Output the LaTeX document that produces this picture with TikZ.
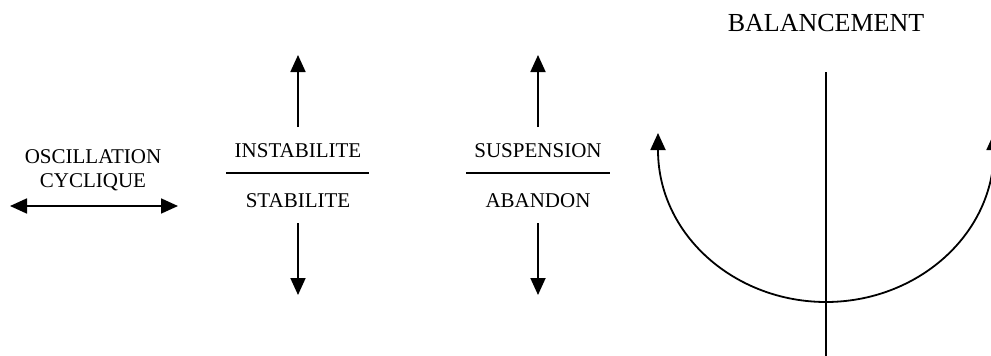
\documentclass[tikz,border=0pt]{standalone}
\usepackage{fontspec}
\setmainfont{Liberation Serif}
\usetikzlibrary{arrows.meta}
\begin{document}
\begin{tikzpicture}[x=1pt,y=-1pt,
  lbl/.style={font=\fontsize{21}{25}\selectfont, inner sep=0pt, anchor=base},
  big/.style={font=\fontsize{26}{30}\selectfont, inner sep=0pt, anchor=base},
  ln/.style={line width=1.8pt},
  tip/.style={Triangle[length=17pt,width=15pt]},
  arr/.style={line width=1.8pt, -{Triangle[length=17pt,width=15pt]}},
  darr/.style={line width=1.8pt, {Triangle[length=17pt,width=15pt]}-{Triangle[length=17pt,width=15pt]}}]
\useasboundingbox (0,0) rectangle (991,356);
\clip (0,0) rectangle (991,356);
% left
\node[lbl] (osc) at (93,163) {OSCILLATION};
\node[lbl] (cyc) at (93,187) {CYCLIQUE};
\coordinate (oL) at (10,206);
\coordinate (oR) at (178,206);
\draw[darr] (oL) -- (oR);
% instabilite / stabilite
\node[lbl] (inst) at (298,157) {INSTABILITE};
\node[lbl] (stab) at (298,207) {STABILITE};
\coordinate (s1L) at (226,173);
\coordinate (s1R) at (369,173);
\draw[ln] (s1L) -- (s1R);
\coordinate (s1a) at (298,127);
\coordinate (s1b) at (298,55);
\coordinate (s1c) at (298,223);
\coordinate (s1d) at (298,295);
\draw[arr] (s1a) -- (s1b);
\draw[arr] (s1c) -- (s1d);
% suspension / abandon
\node[lbl] (susp) at (538,157) {SUSPENSION};
\node[lbl] (aban) at (538,207) {ABANDON};
\coordinate (s2L) at (466,173);
\coordinate (s2R) at (610,173);
\draw[ln] (s2L) -- (s2R);
\coordinate (s2a) at (538,127);
\coordinate (s2b) at (538,55);
\coordinate (s2c) at (538,223);
\coordinate (s2d) at (538,295);
\draw[arr] (s2a) -- (s2b);
\draw[arr] (s2c) -- (s2d);
% balancement
\node[big] (bal) at (826,31) {BALANCEMENT};
\coordinate (vt) at (826,72);
\coordinate (vb) at (826,356);
\draw[ln] (vt) -- (vb);
\coordinate (aL) at (658,133);
\coordinate (aR) at (994,133);
\coordinate (aB) at (826,302);
\draw[darr]
  (aL) -- (658,150) .. controls (658,235) and (735,302) .. (aB)
  .. controls (917,302) and (994,235) .. (994,150) -- (aR);
\end{tikzpicture}
\end{document}
